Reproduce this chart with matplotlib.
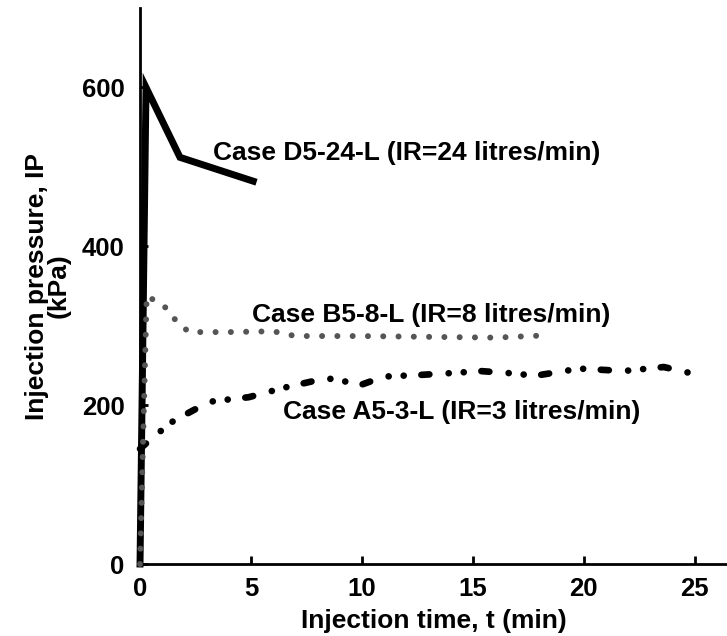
import matplotlib.pyplot as plt

plt.rcParams['font.family'] = ['Liberation Sans', 'DejaVu Sans']
plt.rcParams['font.weight'] = 'bold'

# Case D5-24-L (IR=24 litres/min)
t_d = [0, 0.27, 1.8, 5.1]
p_d = [0, 600, 512, 482]

# Case B5-8-L (IR=8 litres/min)
t_b = [0, 0.3, 1.2, 1.6, 2.2, 4, 6, 7, 10, 13, 16, 18.4]
p_b = [0, 338, 322, 307, 292, 292, 293, 287, 287, 286, 285, 288]

# Case A5-3-L (IR=3 litres/min)
t_a = [0, 0.6, 1.5, 2.5, 3.3, 4.9, 6.5, 8.4, 10, 11, 12.6, 14.4, 15.3, 16.8, 17.8, 19.8, 21.8, 23.6, 24.7]
p_a = [145, 160, 180, 195, 205, 210, 222, 234, 226, 236, 238, 241, 243, 240, 237, 246, 243, 248, 241]

fig = plt.figure(figsize=(7.27, 6.36), dpi=100)
ax = fig.add_axes([0.1926, 0.1132, 0.8074, 0.8742])

ax.plot(t_d, p_d, color='black', lw=5, solid_joinstyle='miter', zorder=4, clip_on=False)
ax.plot(t_a, p_a, color='black', lw=4.8, linestyle=(0, (1.2, 2.9, 0.01, 2.25, 0.01, 2.65)),
        dash_capstyle='round', zorder=3, clip_on=False)
ax.plot(t_b, p_b, color='#555555', lw=4.3, linestyle=(0, (0.01, 2.55)),
        dash_capstyle='round', zorder=6, clip_on=False)

ax.set_xlim(0, 26.45)
ax.set_ylim(0, 700)
ax.set_xticks([0, 5, 10, 15, 20, 25])
ax.set_yticks([0, 200, 400, 600])
ax.tick_params(direction='in', length=6, width=2, labelsize=18.5)
ax.tick_params(axis='y', pad=11)
ax.tick_params(axis='x', pad=9)
for lab in ax.get_xticklabels() + ax.get_yticklabels():
    lab.set_fontweight('bold')

for s in ['top', 'right']:
    ax.spines[s].set_visible(False)
for s in ['left', 'bottom']:
    ax.spines[s].set_linewidth(2)
    ax.spines[s].set_zorder(5)

ax.set_xlabel('Injection time, t (min)', fontsize=19, fontweight='bold', labelpad=6)
ax.set_ylabel('Injection pressure, IP\n(kPa)', fontsize=19, fontweight='bold',
              labelpad=8, linespacing=0.9)

ax.text(3.29, 517, 'Case D5-24-L (IR=24 litres/min)', fontsize=19, fontweight='bold', va='center')
ax.text(5.05, 314, 'Case B5-8-L (IR=8 litres/min)', fontsize=19, fontweight='bold', va='center')
ax.text(6.44, 191, 'Case A5-3-L (IR=3 litres/min)', fontsize=19, fontweight='bold', va='center')

fig.savefig('out.png', dpi=100)
